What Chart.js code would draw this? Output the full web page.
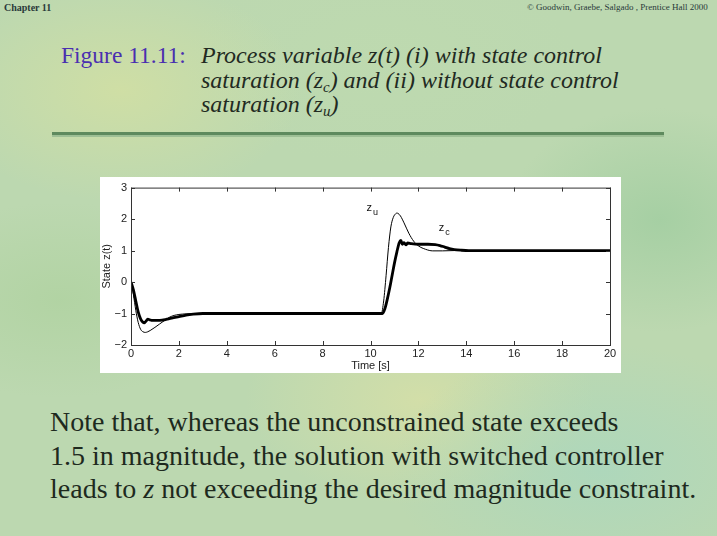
<!DOCTYPE html>
<html>
<head>
<meta charset="utf-8">
<script src="https://cdn.jsdelivr.net/npm/chart.js@4.4.1/dist/chart.umd.min.js"></script>
<style>
  html, body { margin:0; padding:0; }
  body {
    width:717px; height:536px; overflow:hidden; position:relative;
    background:
      radial-gradient(ellipse 260px 160px at 120px 90px, rgba(215,225,160,0.7), rgba(215,225,160,0) 70%),
      radial-gradient(ellipse 300px 180px at 600px 470px, rgba(170,215,190,0.8), rgba(170,215,190,0) 70%),
      radial-gradient(ellipse 250px 150px at 420px 400px, rgba(220,225,165,0.7), rgba(220,225,165,0) 70%),
      radial-gradient(ellipse 220px 160px at 660px 220px, rgba(160,205,160,0.8), rgba(160,205,160,0) 70%),
      radial-gradient(ellipse 240px 140px at 60px 300px, rgba(175,210,160,0.8), rgba(175,210,160,0) 70%),
      radial-gradient(ellipse 280px 150px at 380px 60px, rgba(190,218,175,0.8), rgba(190,218,175,0) 70%),
      #bcd8b0;
    font-family: "Liberation Serif", "DejaVu Serif", serif;
  }
  .abs { position:absolute; white-space:nowrap; }
  #chap { left:4px; top:2px; font: bold 10px "Liberation Serif", serif; color:#2a3a3a; }
  #copy { left:527px; top:2px; font: 9px "Liberation Serif", serif; color:#2a3a3a; }
  #fig { left:61px; top:42px; font-size:23.5px; color:#4a2fb0; }
  .tl { left:201px; font-size:24px; font-style:italic; color:#222a22; }
  #rule1 { left:52px; top:132px; width:612px; height:3px; background:#5e8a5e; }
  #rule2 { left:52px; top:135px; width:612px; height:2px; background:#9dbf95; }
  #box { left:100px; top:177px; width:521px; height:196px; background:#ffffff; }
  .note { left:50px; font-size:28px; color:#1e2a1e; }
  sub { font-size:62%; vertical-align:-0.3em; line-height:0; }
</style>
</head>
<body>
<div class="abs" id="chap">Chapter 11</div>
<div class="abs" id="copy">© Goodwin, Graebe, Salgado , Prentice Hall 2000</div>
<div class="abs" id="fig">Figure 11.11:</div>
<div class="abs tl" style="top:42px">Process variable z(t) (i) with state control</div>
<div class="abs tl" style="top:67px">saturation (z<sub>c</sub>) and (ii) without state control</div>
<div class="abs tl" style="top:91px">saturation (z<sub>u</sub>)</div>
<div class="abs" id="rule1"></div>
<div class="abs" id="rule2"></div>
<div class="abs" id="box"><canvas id="c" width="521" height="196"></canvas></div>
<div class="abs note" style="top:406px">Note that, whereas the unconstrained state exceeds</div>
<div class="abs note" style="top:440px">1.5 in magnitude, the solution with switched controller</div>
<div class="abs note" style="top:473px">leads to <i>z</i> not exceeding the desired magnitude constraint.</div>
<script>
// time samples and values of the unconstrained response z_u (thin)
const tU = [0, 0.1, 0.2, 0.3, 0.4, 0.5, 0.6, 0.7, 0.8, 1.0, 1.2, 1.4, 1.6, 1.8, 2.0, 2.3, 2.6, 3.0,
            10.45, 10.55, 10.65, 10.75, 10.85, 10.95, 11.05, 11.1, 11.15, 11.25, 11.4, 11.6, 11.8, 12.0,
            12.3, 12.6, 13.0, 13.5, 14.0, 20];
const zU = [0, -0.4, -0.9, -1.28, -1.5, -1.58, -1.6, -1.58, -1.54, -1.44, -1.33, -1.22, -1.12, -1.06, -1.03, -1.01, -1.0, -1.0,
            -1.0, -0.6, 0.2, 1.1, 1.75, 2.05, 2.17, 2.19, 2.18, 2.1, 1.88, 1.55, 1.3, 1.15,
            1.04, 0.99, 0.99, 1.0, 1.0, 1.0];
// time samples and values of the saturated-control response z_c (thick)
const tC = [0, 0.1, 0.2, 0.3, 0.4, 0.5, 0.55, 0.62, 0.7, 0.78, 0.9, 1.1, 1.3, 1.5, 1.7, 2.0, 2.3, 2.6, 3.0,
            10.5, 10.6, 10.7, 10.8, 10.9, 11.0, 11.1, 11.2, 11.27, 11.33, 11.4, 11.48, 11.55, 11.7, 12.0,
            12.4, 12.7, 12.9, 13.1, 13.3, 13.5, 13.8, 14.1, 20];
const zC = [0, -0.25, -0.6, -0.95, -1.17, -1.28, -1.3, -1.25, -1.18, -1.2, -1.22, -1.22, -1.21, -1.18, -1.15, -1.1, -1.05, -1.02, -1.0,
            -1.0, -0.85, -0.55, -0.2, 0.2, 0.6, 0.95, 1.25, 1.32, 1.2, 1.25, 1.18, 1.24, 1.22, 1.2,
            1.2, 1.19, 1.16, 1.11, 1.06, 1.03, 1.01, 1.0, 1.0];
const xTicks = [0, 2, 4, 6, 8, 10, 12, 14, 16, 18, 20];
const yTicks = [-2, -1, 0, 1, 2, 3];
// curve labels: [main, subscript, t, z]
const curveLabels = [["z", "u", 9.83, 2.25], ["z", "c", 12.85, 1.62]];

const toPts = (t, z) => t.map((v, i) => ({x: v, y: z[i]}));
const SANS = '"Liberation Sans", Arial, sans-serif';

const frame = {
  id: 'frame',
  afterDraw(chart) {
    const {ctx, chartArea: a, scales: {x, y}} = chart;
    ctx.save();
    ctx.strokeStyle = '#333';
    ctx.lineWidth = 1;
    ctx.strokeRect(a.left + 0.5, a.top + 0.5, a.right - a.left, a.bottom - a.top);
    ctx.beginPath();
    const L = 4;
    xTicks.forEach(v => {
      const px = Math.round(x.getPixelForValue(v)) + 0.5;
      ctx.moveTo(px, a.bottom); ctx.lineTo(px, a.bottom - L);
      ctx.moveTo(px, a.top); ctx.lineTo(px, a.top + L);
    });
    yTicks.forEach(v => {
      const py = Math.round(y.getPixelForValue(v)) + 0.5;
      ctx.moveTo(a.left, py); ctx.lineTo(a.left + L, py);
      ctx.moveTo(a.right, py); ctx.lineTo(a.right - L, py);
    });
    ctx.stroke();
    ctx.fillStyle = '#111';
    ctx.textBaseline = 'alphabetic';
    curveLabels.forEach(([m, s, t, z]) => {
      const px = x.getPixelForValue(t), py = y.getPixelForValue(z);
      ctx.font = '11px ' + SANS;
      ctx.textAlign = 'left';
      ctx.fillText(m, px, py);
      const w = ctx.measureText(m).width;
      ctx.font = '9px ' + SANS;
      ctx.fillText(s, px + w + 1, py + 4);
    });
    ctx.restore();
  }
};

new Chart(document.getElementById('c'), {
  type: 'scatter',
  data: {
    datasets: [
      { label: 'z_u', data: toPts(tU, zU), showLine: true, borderColor: '#000', borderWidth: 1,
        pointRadius: 0, cubicInterpolationMode: 'monotone' },
      { label: 'z_c', data: toPts(tC, zC), showLine: true, borderColor: '#000', borderWidth: 2.8,
        pointRadius: 0, cubicInterpolationMode: 'monotone' }
    ]
  },
  options: {
    responsive: false, animation: false, devicePixelRatio: 1,
    layout: { padding: { top: 9, right: 11, left: 0, bottom: 0 } },
    plugins: { legend: { display: false }, tooltip: { enabled: false } },
    scales: {
      x: {
        type: 'linear', min: 0, max: 20,
        afterBuildTicks: s => { s.ticks = xTicks.map(v => ({value: v})); },
        afterFit: s => { s.height = 28; },
        grid: { display: false, drawTicks: false },
        border: { display: false },
        ticks: { color: '#222', font: { family: SANS, size: 11 }, padding: 2, maxRotation: 0 },
        title: { display: true, text: 'Time [s]', color: '#222', padding: { top: 0, bottom: 0 },
                 font: { family: SANS, size: 11 } }
      },
      y: {
        type: 'linear', min: -2, max: 3,
        afterBuildTicks: s => { s.ticks = yTicks.map(v => ({value: v})); },
        afterFit: s => { s.width = 31; },
        grid: { display: false, drawTicks: false },
        border: { display: false },
        ticks: { color: '#222', font: { family: SANS, size: 11 }, padding: 4,
                 callback: v => (v < 0 ? '\u2212' + Math.abs(v) : '' + v) },
        title: { display: true, text: 'State z(t)', color: '#222', padding: { top: 0, bottom: 0 },
                 font: { family: SANS, size: 11 } }
      }
    }
  },
  plugins: [frame]
});
</script>
</body>
</html>
